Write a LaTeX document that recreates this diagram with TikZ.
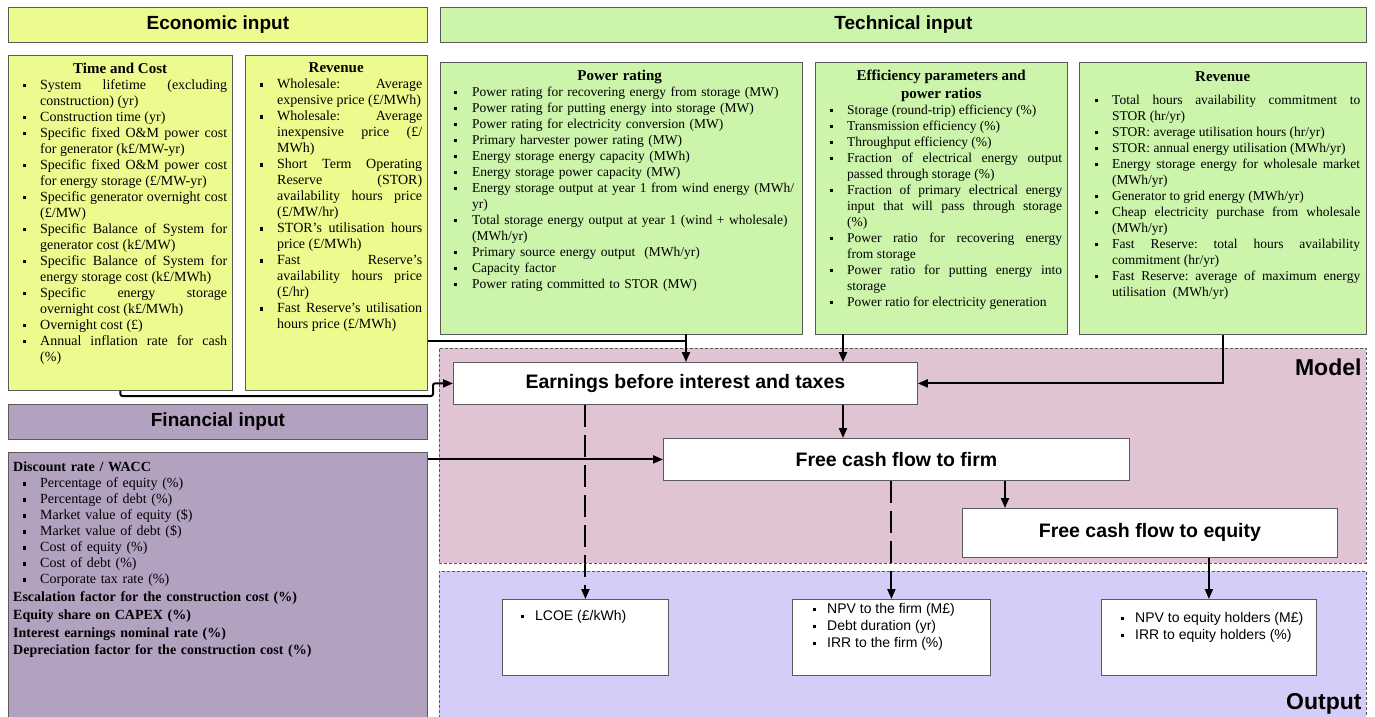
\documentclass[tikz,border=0pt]{standalone}
\usepackage{fontspec}
\setmainfont{Liberation Serif}
\setsansfont{Liberation Sans}
\usepackage{enumitem}
\usetikzlibrary{arrows.meta}
\usetikzlibrary{calc}
\usetikzlibrary{positioning}

\definecolor{ecoYellow}{HTML}{EDFB8E}
\definecolor{techGreen}{HTML}{CCF4AA}
\definecolor{finPurple}{HTML}{B3A1C0}
\definecolor{modelPink}{HTML}{E0C4D3}
\definecolor{outLavender}{HTML}{D3CDF8}
\definecolor{edgeGray}{HTML}{5A5A5A}

\newlist{params}{itemize}{1}
\setlist[params]{label=\rule[0.3ex]{3.5pt}{3.5pt},leftmargin=27pt,labelsep=14pt,
  itemsep=0pt,topsep=0pt,parsep=0pt,partopsep=0pt}
\newlist{results}{itemize}{1}
\setlist[results]{label=\rule[0.3ex]{3.5pt}{3.5pt},leftmargin=25pt,labelsep=11pt,
  itemsep=0pt,topsep=0pt,parsep=0pt,partopsep=0pt}

\hyphenpenalty=10000
\tolerance=9999
\emergencystretch=20pt
\frenchspacing

\newcommand{\paneltitle}[1]{{\centering\bfseries\fontsize{15}{18}\selectfont #1\par}}

\begin{document}
\begin{tikzpicture}
  [x=1pt,y=-1pt,
   headbox/.style={rectangle,draw=edgeGray,line width=0.8pt,anchor=north west,inner sep=0pt,
     minimum height=35pt,font=\sffamily\bfseries\fontsize{19}{22}\selectfont},
   panel/.style={rectangle,draw=edgeGray,line width=0.8pt,anchor=north west,inner sep=0pt},
   paneltext/.style={anchor=north west,inner sep=0pt,align=justify,
     font=\fontsize{14}{16}\selectfont},
   techtext/.style={paneltext,font=\fontsize{13.5}{16}\selectfont},
   region/.style={rectangle,draw=edgeGray,dash pattern=on 3pt off 2pt,line width=0.7pt,
     anchor=north west,inner sep=0pt},
   regionlabel/.style={font=\sffamily\bfseries\fontsize{23}{26}\selectfont,inner sep=0pt},
   stagebox/.style={rectangle,draw=edgeGray,fill=white,line width=0.8pt,anchor=north west,
     inner sep=0pt,font=\sffamily\bfseries\fontsize{19.5}{22}\selectfont},
   resultbox/.style={rectangle,draw=edgeGray,fill=white,line width=0.8pt,anchor=north west,
     inner sep=0pt},
   resulttext/.style={anchor=north west,inner sep=0pt,align=left,
     font=\sffamily\fontsize{14}{17}\selectfont},
   flow/.style={line width=2pt,-{Triangle[length=10pt,width=8pt]}},
   linkline/.style={line width=2pt},
   dashflow/.style={line width=2pt,dash pattern=on 22pt off 8pt,-{Triangle[length=10pt,width=8pt]}}]
  \useasboundingbox (0,0) rectangle (1375,716);

  % model and output areas
  \node[region,fill=modelPink,minimum width=927pt,minimum height=215pt] (model) at (439,348) {};
  \node[region,fill=outLavender,minimum width=927pt,minimum height=152pt] (output) at (439,571) {};
  \node[regionlabel,anchor=north east] (modellabel) at ([xshift=-5pt,yshift=-11pt]model.north east) {Model};
  \node[regionlabel,anchor=base east] (outputlabel) at ([xshift=-5pt,yshift=14pt]output.south east) {Output};

  % economic input
  \node[headbox,fill=ecoYellow,minimum width=419pt] (ecoinput) at (8,7) {Economic input};
  \node[panel,fill=ecoYellow,minimum width=224pt,minimum height=335pt] (timecost) at (8,55) {};
  \node[paneltext,text width=214pt] (timecost-txt) at ([xshift=5pt,yshift=-7.5pt]timecost.north west) {
    \paneltitle{Time and Cost}
    \begin{params}
      \item System lifetime (excluding construction) (yr)
      \item Construction time (yr)
      \item Specific fixed O\&M power cost for generator (k£/MW-yr)
      \item Specific fixed O\&M power cost for energy storage (£/MW-yr)
      \item Specific generator overnight cost (£/MW)
      \item Specific Balance of System for generator cost (k£/MW)
      \item Specific Balance of System for energy storage cost (k£/MWh)
      \item Specific energy storage\linebreak overnight cost (k£/MWh)
      \item Overnight cost (£)
      \item Annual inflation rate for cash\linebreak (\%)
    \end{params}};
  \node[panel,fill=ecoYellow,minimum width=182pt,minimum height=335pt] (revecon) at (245,55) {};
  \node[paneltext,text width=172pt] (revecon-txt) at ([xshift=5pt,yshift=-7.5pt]revecon.north west) {
    \paneltitle{Revenue}
    \begin{params}
      \item Wholesale: Average expensive price (£/MWh)
      \item Wholesale: Average inexpensive price (£/\allowbreak MWh)
      \item Short Term Operating Reserve (STOR) availability hours price (£/MW/hr)
      \item STOR's utilisation hours price (£/MWh)
      \item Fast Reserve's availability hours price (£/hr)
      \item Fast Reserve's utilisation hours price (£/MWh)
    \end{params}};

  % financial input
  \node[headbox,fill=finPurple,minimum width=419pt] (fininput) at (8,404) {Financial input};
  \node[panel,fill=finPurple,minimum width=419pt,minimum height=268pt] (finance) at (8,452) {};
  \node[paneltext,text width=405pt,align=left] (finance-txt) at ([xshift=5pt,yshift=-10pt]finance.north west) {
    {\bfseries Discount rate / WACC\par}
    \begin{params}[leftmargin=27pt]
      \item Percentage of equity (\%)
      \item Percentage of debt (\%)
      \item Market value of equity (\$)
      \item Market value of debt (\$)
      \item Cost of equity (\%)
      \item Cost of debt (\%)
      \item Corporate tax rate (\%)
    \end{params}
    {\bfseries\fontsize{14}{17.7}\selectfont Escalation factor for the construction cost (\%)\\
    Equity share on CAPEX (\%)\\
    Interest earnings nominal rate (\%)\\
    Depreciation factor for the construction cost (\%)\par}};

  % technical input
  \node[headbox,fill=techGreen,minimum width=926pt] (techinput) at (440,7) {Technical input};
  \node[panel,fill=techGreen,minimum width=362pt,minimum height=272pt] (powrating) at (440,62) {};
  \node[techtext,text width=351pt,align=left] (powrating-txt) at ([xshift=4pt,yshift=-7.5pt]powrating.north west) {
    \paneltitle{Power rating}
    \begin{params}[leftmargin=28pt,labelsep=15pt]
      \item Power rating for recovering energy from storage (MW)
      \item Power rating for putting energy into storage (MW)
      \item Power rating for electricity conversion (MW)
      \item Primary harvester power rating (MW)
      \item Energy storage energy capacity (MWh)
      \item Energy storage power capacity (MW)
      \item Energy storage output at year 1 from wind energy (MWh/\allowbreak yr)
      \item Total storage energy output at year 1 (wind + wholesale) (MWh/yr)
      \item Primary source energy output\ \ (MWh/yr)
      \item Capacity factor
      \item Power rating committed to STOR (MW)
    \end{params}};
  \node[panel,fill=techGreen,minimum width=252pt,minimum height=272pt] (efficiency) at (815,62) {};
  \node[techtext,text width=242pt] (efficiency-txt) at ([xshift=5pt,yshift=-7.5pt]efficiency.north west) {
    \paneltitle{Efficiency parameters and\\power ratios}
    \begin{params}
      \item Storage (round-trip) efficiency (\%)
      \item Transmission efficiency (\%)
      \item Throughput efficiency (\%)
      \item Fraction of electrical energy output passed through storage (\%)
      \item Fraction of primary electrical energy input that will pass through storage\linebreak (\%)
      \item Power ratio for recovering energy\linebreak from storage
      \item Power ratio for putting energy into storage
      \item Power ratio for electricity generation
    \end{params}};
  \node[panel,fill=techGreen,minimum width=287pt,minimum height=272pt] (revtech) at (1079,62) {};
  \node[techtext,text width=275pt] (revtech-txt) at ([xshift=6pt,yshift=-9pt]revtech.north west) {
    \paneltitle{Revenue}\vspace{7pt}
    \begin{params}
      \item Total hours availability commitment to\linebreak STOR (hr/yr)
      \item STOR: average utilisation hours (hr/yr)
      \item STOR: annual energy utilisation (MWh/yr)
      \item Energy storage energy for wholesale market (MWh/yr)
      \item Generator to grid energy (MWh/yr)
      \item Cheap electricity purchase from wholesale (MWh/yr)
      \item Fast Reserve: total hours availability commitment (hr/yr)
      \item Fast Reserve: average of maximum energy utilisation\ \ (MWh/yr)
    \end{params}};

  % model stages
  \node[stagebox,minimum width=464pt,minimum height=42pt] (ebit) at (453,362) {Earnings before interest and taxes};
  \node[stagebox,minimum width=466pt,minimum height=42pt] (fcff) at (663,438) {Free cash flow to firm};
  \node[stagebox,minimum width=375pt,minimum height=49pt] (fcfe) at (962,508) {Free cash flow to equity};

  % outputs
  \node[resultbox,minimum width=166pt,minimum height=76pt] (lcoe) at (502,599) {};
  \node[resulttext] (lcoe-txt) at ([xshift=8pt,yshift=-11pt]lcoe.north west) {
    \begin{minipage}{150pt}\begin{results}
      \item LCOE (£/kWh)
    \end{results}\end{minipage}};
  \node[resultbox,minimum width=198pt,minimum height=76pt] (npvfirm) at (792,599) {};
  \node[resulttext] (npvfirm-txt) at ([xshift=10pt,yshift=-4pt]npvfirm.north west) {
    \begin{minipage}{180pt}\begin{results}
      \item NPV to the firm (M£)
      \item Debt duration (yr)
      \item IRR to the firm (\%)
    \end{results}\end{minipage}};
  \node[resultbox,minimum width=215pt,minimum height=76pt] (npveq) at (1101,599) {};
  \node[resulttext] (npveq-txt) at ([xshift=9pt,yshift=-13pt]npveq.north west) {
    \begin{minipage}{200pt}\begin{results}
      \item NPV to equity holders (M£)
      \item IRR to equity holders (\%)
    \end{results}\end{minipage}};

  % connectors
  \coordinate (powdrop) at (686,334);
  \coordinate (effdrop) at (843,334);
  \coordinate (revjoin) at (686,341);
  \coordinate (eqdrop) at (1005,0);
  \draw[flow,rounded corners=2pt] (timecost.south) |- (433,396) |- (ebit.west);
  \draw[linkline] (revjoin -| revecon.east) -- (revjoin);
  \draw[flow] (powdrop) -- (powdrop |- ebit.north);
  \draw[flow] (effdrop) -- (effdrop |- ebit.north);
  \draw[flow] (revtech.south) |- (ebit.east);
  \draw[flow] (fcff.west -| finance.east) -- (fcff.west);
  \draw[flow] (effdrop |- ebit.south) -- (effdrop |- fcff.north);
  \draw[flow] (eqdrop |- fcff.south) -- (eqdrop |- fcfe.north);
  \draw[dashflow] (lcoe.north |- ebit.south) -- (lcoe.north);
  \draw[dashflow] (npvfirm.north |- fcff.south) -- (npvfirm.north);
  \draw[flow] (npveq.north |- fcfe.south) -- (npveq.north);
\end{tikzpicture}
\end{document}
